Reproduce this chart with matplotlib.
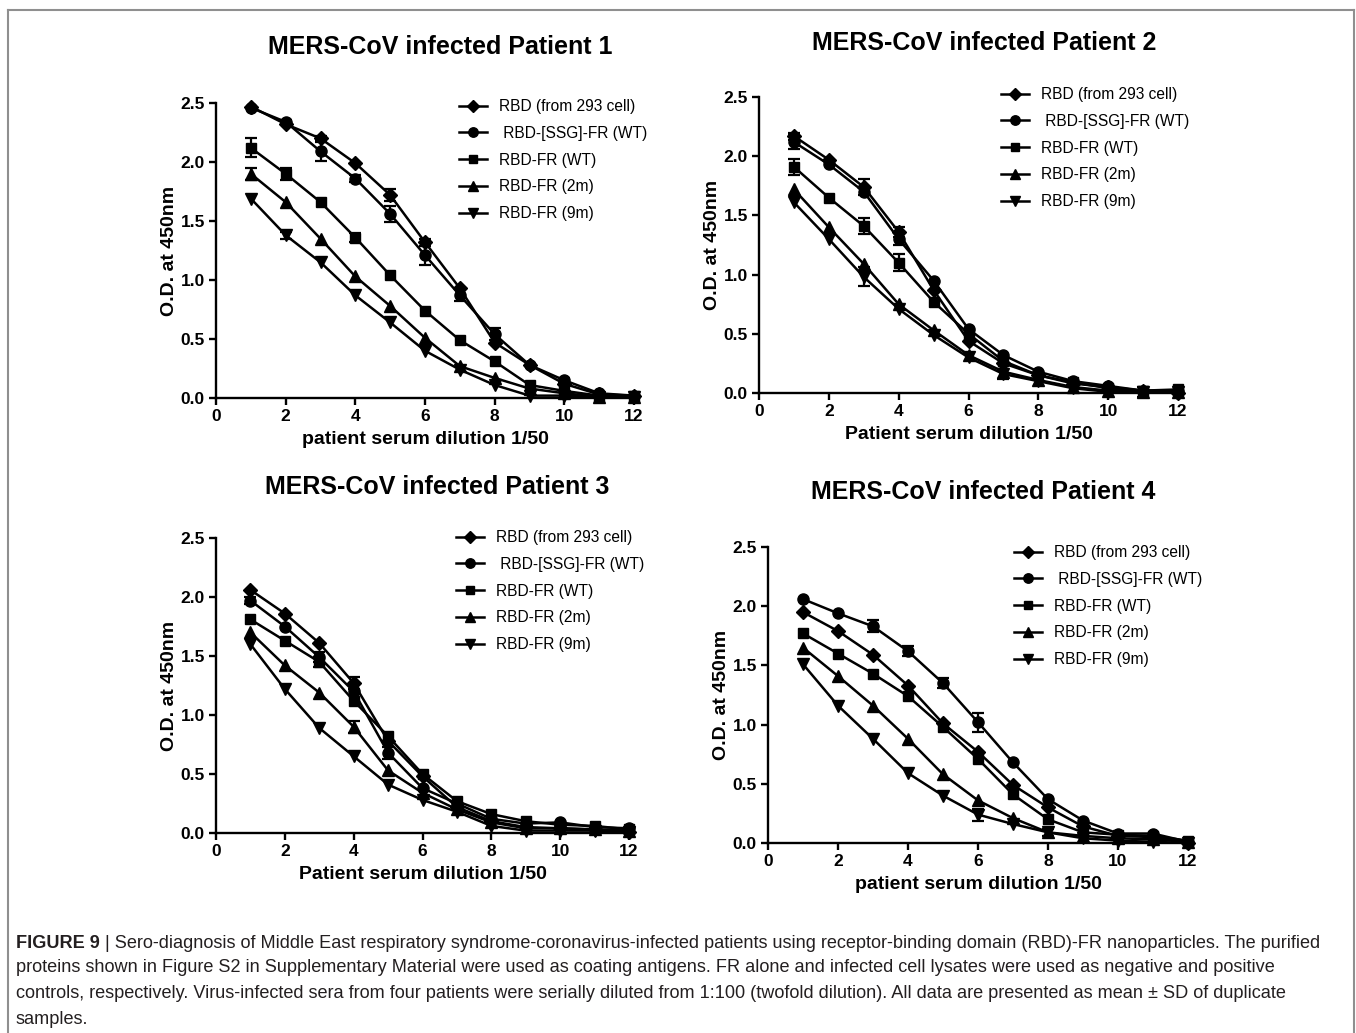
import numpy as np
import matplotlib
matplotlib.use("Agg")
import matplotlib.pyplot as plt
from matplotlib.lines import Line2D

plt.rcParams['font.family'] = ['Liberation Sans', 'DejaVu Sans']

W, H = 1356, 1033

dilution = [1, 2, 3, 4, 5, 6, 7, 8, 9, 10, 11, 12]
labels = ["RBD (from 293 cell)", " RBD-[SSG]-FR (WT)", "RBD-FR (WT)", "RBD-FR (2m)", "RBD-FR (9m)"]
markers = ['D', 'o', 's', '^', 'v']
msizes = [7, 8, 7.5, 8, 8]

# patient 1
p1_rbd = [2.47, 2.32, 2.20, 1.99, 1.72, 1.32, 0.93, 0.47, 0.28, 0.12, 0.03, 0.02]
p1_ssg = [2.46, 2.34, 2.09, 1.86, 1.56, 1.21, 0.87, 0.54, 0.28, 0.15, 0.04, 0.02]
p1_wt = [2.12, 1.90, 1.66, 1.36, 1.04, 0.74, 0.49, 0.31, 0.11, 0.06, 0.02, 0.02]
p1_2m = [1.90, 1.66, 1.35, 1.03, 0.78, 0.51, 0.27, 0.17, 0.08, 0.04, 0.01, 0.01]
p1_9m = [1.69, 1.38, 1.15, 0.87, 0.64, 0.40, 0.24, 0.11, 0.02, 0.02, 0.01, 0.01]
p1_rbd_sd = [0, 0, 0.02, 0, 0.05, 0.03, 0, 0, 0, 0, 0, 0]
p1_ssg_sd = [0, 0.02, 0.08, 0.03, 0.07, 0.08, 0.05, 0.05, 0, 0.02, 0, 0]
p1_wt_sd = [0.08, 0.05, 0, 0.04, 0, 0, 0, 0, 0, 0, 0, 0]
p1_2m_sd = [0.05, 0, 0, 0, 0, 0, 0, 0, 0, 0, 0, 0]
p1_9m_sd = [0, 0.03, 0, 0, 0, 0, 0, 0, 0, 0, 0, 0]

# patient 2
p2_rbd = [2.17, 1.97, 1.74, 1.36, 0.87, 0.44, 0.25, 0.15, 0.08, 0.05, 0.02, 0.00]
p2_ssg = [2.12, 1.93, 1.70, 1.30, 0.95, 0.54, 0.32, 0.18, 0.10, 0.06, 0.02, 0.02]
p2_wt = [1.91, 1.65, 1.41, 1.10, 0.77, 0.50, 0.27, 0.15, 0.09, 0.04, 0.02, 0.03]
p2_2m = [1.72, 1.40, 1.09, 0.75, 0.53, 0.32, 0.18, 0.11, 0.05, 0.02, 0.01, 0.01]
p2_9m = [1.61, 1.30, 0.98, 0.71, 0.49, 0.30, 0.16, 0.10, 0.04, 0.01, 0.01, 0.01]
p2_rbd_sd = [0.03, 0, 0.07, 0.04, 0, 0, 0, 0, 0, 0, 0, 0]
p2_ssg_sd = [0.06, 0, 0, 0.05, 0, 0, 0, 0, 0, 0, 0, 0]
p2_wt_sd = [0.07, 0, 0.07, 0.07, 0, 0, 0, 0, 0, 0, 0, 0]
p2_2m_sd = [0, 0, 0, 0, 0, 0, 0, 0, 0, 0, 0, 0]
p2_9m_sd = [0, 0, 0.08, 0, 0, 0, 0.04, 0, 0, 0, 0.04, 0]

# patient 3
p3_rbd = [2.06, 1.86, 1.61, 1.27, 0.78, 0.48, 0.22, 0.10, 0.05, 0.04, 0.03, 0.01]
p3_ssg = [1.97, 1.75, 1.49, 1.20, 0.68, 0.38, 0.25, 0.12, 0.08, 0.09, 0.05, 0.04]
p3_wt = [1.81, 1.63, 1.45, 1.12, 0.82, 0.50, 0.27, 0.16, 0.10, 0.07, 0.06, 0.03]
p3_2m = [1.70, 1.42, 1.19, 0.90, 0.53, 0.34, 0.20, 0.09, 0.04, 0.04, 0.03, 0.02]
p3_9m = [1.60, 1.22, 0.89, 0.65, 0.41, 0.28, 0.18, 0.06, 0.02, 0.02, 0.02, 0.01]
p3_rbd_sd = [0, 0, 0, 0.05, 0, 0, 0, 0, 0, 0, 0, 0]
p3_ssg_sd = [0.03, 0, 0.04, 0, 0.05, 0, 0, 0, 0, 0, 0, 0]
p3_wt_sd = [0, 0, 0.04, 0, 0, 0, 0, 0, 0, 0, 0, 0]
p3_2m_sd = [0, 0, 0, 0.05, 0, 0, 0, 0, 0, 0, 0, 0]
p3_9m_sd = [0, 0, 0, 0, 0, 0, 0, 0, 0, 0, 0, 0]

# patient 4
p4_rbd = [1.95, 1.79, 1.59, 1.33, 1.01, 0.77, 0.49, 0.30, 0.14, 0.06, 0.05, 0.00]
p4_ssg = [2.06, 1.94, 1.83, 1.62, 1.35, 1.02, 0.68, 0.37, 0.19, 0.08, 0.08, 0.01]
p4_wt = [1.77, 1.60, 1.43, 1.24, 0.98, 0.71, 0.41, 0.20, 0.09, 0.07, 0.06, 0.02]
p4_2m = [1.65, 1.41, 1.16, 0.88, 0.58, 0.36, 0.21, 0.09, 0.06, 0.04, 0.03, 0.01]
p4_9m = [1.51, 1.16, 0.88, 0.59, 0.40, 0.24, 0.16, 0.09, 0.04, 0.02, 0.01, 0.00]
p4_rbd_sd = [0, 0, 0, 0, 0, 0, 0, 0, 0, 0, 0, 0]
p4_ssg_sd = [0, 0, 0.05, 0.04, 0.04, 0.08, 0, 0, 0, 0, 0, 0]
p4_wt_sd = [0, 0, 0, 0, 0, 0, 0, 0, 0, 0, 0, 0]
p4_2m_sd = [0, 0, 0, 0, 0, 0, 0, 0.03, 0, 0, 0, 0]
p4_9m_sd = [0, 0, 0, 0, 0, 0.05, 0, 0, 0, 0, 0, 0]

titles = ["MERS-CoV infected Patient 1", "MERS-CoV infected Patient 2",
          "MERS-CoV infected Patient 3", "MERS-CoV infected Patient 4"]
xlabels = ["patient serum dilution 1/50", "Patient serum dilution 1/50",
           "Patient serum dilution 1/50", "patient serum dilution 1/50"]
ylabel = "O.D. at 450nm"

panels = [
    ([p1_rbd, p1_ssg, p1_wt, p1_2m, p1_9m], [p1_rbd_sd, p1_ssg_sd, p1_wt_sd, p1_2m_sd, p1_9m_sd]),
    ([p2_rbd, p2_ssg, p2_wt, p2_2m, p2_9m], [p2_rbd_sd, p2_ssg_sd, p2_wt_sd, p2_2m_sd, p2_9m_sd]),
    ([p3_rbd, p3_ssg, p3_wt, p3_2m, p3_9m], [p3_rbd_sd, p3_ssg_sd, p3_wt_sd, p3_2m_sd, p3_9m_sd]),
    ([p4_rbd, p4_ssg, p4_wt, p4_2m, p4_9m], [p4_rbd_sd, p4_ssg_sd, p4_wt_sd, p4_2m_sd, p4_9m_sd]),
]

# axes boxes in pixels: left, right, top(y=2.5), bottom(y=0)
boxes = [(216, 634, 103, 398), (759, 1178, 97, 393), (216, 629, 538, 833), (768, 1188, 547, 843)]
title_pos = [(440, 47), (984, 43), (437, 487), (983, 492)]
legend_pos = [(459, 99), (1001, 87), (456, 530), (1014, 545)]

fig = plt.figure(figsize=(W / 100, H / 100), dpi=100)

for i in range(4):
    l, r, t, b = boxes[i]
    ax = fig.add_axes([l / W, (H - b) / H, (r - l) / W, (b - t) / H])
    series, sds = panels[i]
    for k in range(5):
        y = np.array(series[k])
        sd = np.array(sds[k])
        x = np.array(dilution)
        ax.plot(x, y, color='black', lw=1.8, marker=markers[k], ms=msizes[k],
                mfc='black', mec='black', clip_on=False, label=labels[k], zorder=3)
        m = sd > 0
        if m.any():
            ax.errorbar(x[m], y[m], yerr=sd[m], fmt='none', ecolor='black',
                        elinewidth=1.6, capsize=4.5, capthick=1.6, clip_on=False, zorder=3)
    ax.set_xlim(0, 12)
    ax.set_ylim(0, 2.5)
    ax.set_xticks([0, 2, 4, 6, 8, 10, 12])
    ax.set_yticks([0, 0.5, 1.0, 1.5, 2.0, 2.5])
    ax.set_yticklabels(['0.0', '0.5', '1.0', '1.5', '2.0', '2.5'])
    for s in ['top', 'right']:
        ax.spines[s].set_visible(False)
    for s in ['left', 'bottom']:
        ax.spines[s].set_linewidth(1.7)
    ax.tick_params(direction='out', length=5, width=1.7, labelsize=12.5, pad=3)
    for lab in ax.get_xticklabels() + ax.get_yticklabels():
        lab.set_fontweight('bold')
    ax.set_xlabel(xlabels[i], fontsize=14, fontweight='bold', labelpad=5)
    ax.set_ylabel(ylabel, fontsize=14, fontweight='bold', labelpad=2)
    lx, ly = legend_pos[i]
    ax.legend(loc='upper left', bbox_to_anchor=(lx / W, 1 - ly / H), bbox_transform=fig.transFigure,
              frameon=False, fontsize=11.2, borderpad=0, borderaxespad=0, handlelength=1.8,
              handletextpad=0.75, labelspacing=0.76, markerscale=0.85)
    tx, ty = title_pos[i]
    fig.text(tx / W, 1 - ty / H, titles[i], fontsize=18, fontweight='bold', ha='center', va='center')

# frame around figure
for xs, ys in [([8, 8], [H + 5, 10]), ([8, 1354], [10, 10]), ([1354, 1354], [10, H + 5])]:
    fig.add_artist(Line2D([x / W for x in xs], [1 - y / H for y in ys], color='#8f8f8f', lw=1.5))

# caption
cap_color = '#231f20'
cap_lines = [
    "Sero-diagnosis of Middle East respiratory syndrome-coronavirus-infected patients using receptor-binding domain (RBD)-FR nanoparticles. The purified",
    "proteins shown in Figure S2 in Supplementary Material were used as coating antigens. FR alone and infected cell lysates were used as negative and positive",
    "controls, respectively. Virus-infected sera from four patients were serially diluted from 1:100 (twofold dilution). All data are presented as mean \u00b1 SD of duplicate",
    "samples.",
]
cap_y = [943, 968, 994, 1020]
cap_fs = 13.1
x0 = 16
renderer = fig.canvas.get_renderer()
tb = fig.text(x0 / W, 1 - cap_y[0] / H, "FIGURE 9", fontsize=cap_fs, fontweight='bold',
              color=cap_color, va='center')
wb = tb.get_window_extent(renderer).width
fig.text((x0 + wb) / W, 1 - cap_y[0] / H, " | " + cap_lines[0], fontsize=cap_fs,
         color=cap_color, va='center')
for j in range(1, 4):
    fig.text(x0 / W, 1 - cap_y[j] / H, cap_lines[j], fontsize=cap_fs, color=cap_color, va='center')

fig.savefig("out.png", dpi=100)
